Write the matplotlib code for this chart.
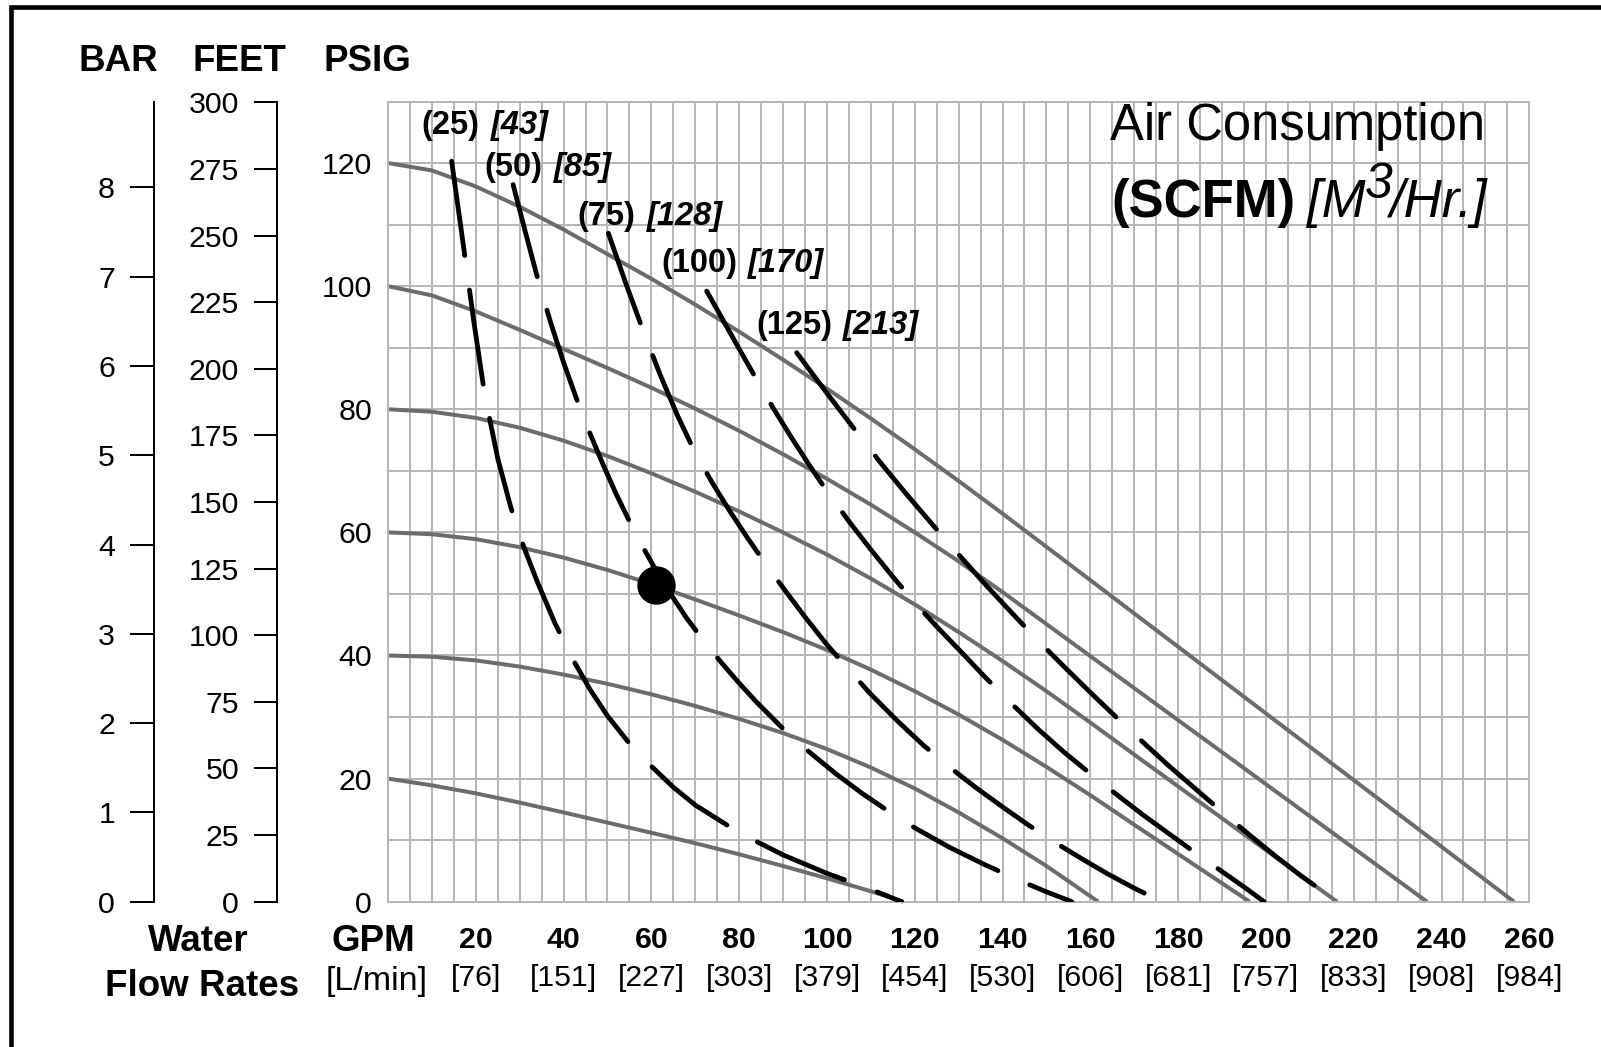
import matplotlib
matplotlib.use('Agg')
import matplotlib.pyplot as plt
from matplotlib.lines import Line2D
from matplotlib.transforms import blended_transform_factory
import numpy as np

plt.rcParams['font.family'] = ['Liberation Sans', 'DejaVu Sans']
plt.rcParams['lines.scale_dashes'] = False

# ---------------- data ----------------
gpm_ticks = [20, 40, 60, 80, 100, 120, 140, 160, 180, 200, 220, 240, 260]
lpm_labels = ['[76]', '[151]', '[227]', '[303]', '[379]', '[454]', '[530]',
              '[606]', '[681]', '[757]', '[833]', '[908]', '[984]']
psig_ticks = [0, 20, 40, 60, 80, 100, 120]
bar_ticks = [0, 1, 2, 3, 4, 5, 6, 7, 8]
feet_ticks = [0, 25, 50, 75, 100, 125, 150, 175, 200, 225, 250, 275, 300]

# solid performance curves (air inlet pressure, PSIG): GPM vs discharge PSIG
s120_gpm = [0, 10, 20, 30, 40, 50, 60, 70, 80, 90, 100, 110, 120, 130, 140, 150, 256.5]
s120_psi = [120, 118.8, 116.2, 112.9, 109.2, 105.2, 101.2, 97.0, 92.6, 88.05, 83.35, 78.5, 73.5, 68.35, 63.05, 57.65, 0]
s100_gpm = [0, 10, 20, 30, 40, 50, 60, 70, 80, 90, 100, 110, 120, 130, 140, 236.7]
s100_psi = [100, 98.5, 95.9, 92.9, 89.8, 86.7, 83.5, 80.1, 76.5, 72.7, 68.7, 64.5, 60.0, 55.3, 50.3, 0]
s80_gpm = [0, 10, 20, 30, 40, 50, 60, 70, 80, 90, 100, 110, 120, 130, 140, 150, 160, 170, 216.2]
s80_psi = [80, 79.6, 78.6, 77.0, 74.9, 72.4, 69.6, 66.6, 63.4, 60.0, 56.4, 52.5, 48.3, 43.8, 39.1, 34.2, 29.1, 23.9, 0]
s60_gpm = [0, 10, 20, 30, 40, 50, 60, 70, 80, 90, 100, 110, 120, 130, 140, 150, 160, 170, 196.3]
s60_psi = [60, 59.7, 58.9, 57.6, 55.9, 53.9, 51.6, 49.1, 46.5, 43.8, 40.9, 37.7, 34.2, 30.4, 26.3, 21.9, 17.3, 12.5, 0]
s40_gpm = [0, 10, 20, 30, 40, 50, 60, 70, 80, 90, 100, 110, 120, 130, 140, 150, 161.8]
s40_psi = [40, 39.8, 39.2, 38.2, 36.9, 35.4, 33.7, 31.8, 29.7, 27.4, 24.8, 21.8, 18.4, 14.5, 10.3, 5.8, 0]
s20_gpm = [0, 10, 20, 30, 40, 50, 60, 70, 80, 90, 100, 110, 117.4]
s20_psi = [20, 18.9, 17.6, 16.1, 14.5, 12.85, 11.2, 9.5, 7.7, 5.8, 3.8, 1.7, 0]

# dashed air consumption curves (SCFM)
d25_gpm = [14.5, 17, 19.5, 22, 25, 28, 31, 34, 38, 42, 46, 50, 55, 60, 65, 70, 80, 90, 100, 110, 117]
d25_psi = [120.3, 107.5, 94.5, 82.5, 72, 64, 57.5, 52, 45.3, 39.5, 34.5, 30.2, 25.7, 22, 18.6, 15.7, 11.2, 7.6, 4.6, 2.0, 0]
d50_gpm = [28.5, 31, 34, 37, 40, 43, 46, 49, 52, 55, 58, 61, 64, 68, 72, 76, 80, 84, 90, 96, 102, 108, 114, 120, 128, 136, 144, 150, 155.8]
d50_psi = [116.5, 109.6, 101.5, 94.2, 87.6, 81.6, 76.1, 71.0, 66.2, 61.8, 57.7, 53.9, 50.4, 46.1, 42.3, 38.8, 35.5, 32.4, 28.1, 24.3, 20.8, 17.6, 14.7, 12.0, 8.8, 6.0, 3.4, 1.6, 0]
d75_gpm = [50.2, 54, 58, 62, 66, 70, 74, 78, 82, 86, 90, 95, 100, 105, 110, 116, 122, 128, 134, 140, 146, 152, 158, 164, 170, 176.2]
d75_psi = [108.6, 100.8, 93.0, 85.6, 78.9, 72.9, 67.9, 63.3, 59.0, 54.9, 51.0, 46.25, 41.75, 37.65, 33.7, 29.4, 25.4, 21.8, 18.5, 15.4, 12.4, 9.6, 7.0, 4.5, 2.2, 0]
d100_gpm = [72.6, 76, 80, 84, 88, 92, 96, 100, 105, 110, 115, 120, 125, 130, 136, 142, 148, 154, 160, 166, 172, 178, 184, 190, 195, 199.6]
d100_psi = [99.2, 94.9, 89.8, 84.8, 79.9, 75.3, 70.9, 66.7, 61.8, 57.2, 52.8, 48.6, 44.7, 41.0, 36.5, 32.2, 28.1, 24.3, 20.8, 17.4, 14.1, 11.0, 7.9, 4.9, 2.4, 0]
d125_gpm = [93.1, 100, 106, 112, 118, 124, 130, 136, 142, 148, 154, 160, 166, 172, 178, 184, 190, 196, 202, 208, 216.2]
d125_psi = [89.2, 82.6, 77.0, 71.5, 66.3, 61.3, 56.4, 51.6, 47.0, 42.5, 38.2, 34.0, 29.9, 25.9, 22.0, 18.3, 14.6, 11.0, 7.5, 4.2, 0]

scfm_labels = ['(25)', '(50)', '(75)', '(100)', '(125)']
m3hr_labels = ['[43]', '[85]', '[128]', '[170]', '[213]']
label_gpm = [7.6, 22.0, 43.2, 62.2, 83.9]
label_psi = [126.1, 119.2, 111.3, 103.7, 93.6]

point_gpm = [61]
point_psi = [51.5]

# ---------------- figure ----------------
W, H = 1601, 1047
fig = plt.figure(figsize=(W / 100, H / 100), dpi=100)
fig.patch.set_facecolor('white')


def fx(px):
    return px / W


def fy(py):
    return 1 - py / H


PX = 0.72  # points per pixel at 100 dpi
grid_c = '#b6b6b6'
curve_c = '#6c6c6c'

ax_left, ax_right, ax_top, ax_bot = 388, 1529.3, 101.5, 901.7
ax = fig.add_axes([fx(ax_left), fy(ax_bot), (ax_right - ax_left) / W, (ax_bot - ax_top) / H])
ax.set_xlim(0, 260)
ax.set_ylim(0, 130)
ax.vlines(np.arange(5, 260, 5), 0, 130, color=grid_c, lw=2 * PX, zorder=0)
ax.hlines(np.arange(10, 130, 10), 0, 260, color=grid_c, lw=2 * PX, zorder=0)
for sp in ax.spines.values():
    sp.set_color(grid_c)
    sp.set_linewidth(2 * PX)

ax.set_xticks(gpm_ticks)
ax.set_xticklabels([str(v) for v in gpm_ticks], fontsize=21.8, fontweight='bold')
ax.set_yticks(psig_ticks)
ax.set_yticklabels([str(v) for v in psig_ticks], fontsize=21.8)
ax.tick_params(axis='x', length=0, pad=24 * PX)
ax.tick_params(axis='y', length=0, pad=16 * PX)

trans_lpm = blended_transform_factory(ax.transData, fig.transFigure)
for g, s in zip(gpm_ticks, lpm_labels):
    ax.text(g, fy(986), s, transform=trans_lpm, ha='center', va='baseline', fontsize=21.8)

# solid curves
for xs, ys in [(s120_gpm, s120_psi), (s100_gpm, s100_psi), (s80_gpm, s80_psi),
               (s60_gpm, s60_psi), (s40_gpm, s40_psi), (s20_gpm, s20_psi)]:
    ax.plot(xs, ys, color=curve_c, lw=4.0 * PX, solid_capstyle='butt',
            solid_joinstyle='round', zorder=2, clip_on=False)

# dashed curves
lw_d = 4.8 * PX
dash = (0, (100 * PX - lw_d, 30 * PX + lw_d))
for xs, ys in [(d25_gpm, d25_psi), (d50_gpm, d50_psi), (d75_gpm, d75_psi),
               (d100_gpm, d100_psi), (d125_gpm, d125_psi)]:
    ax.plot(xs, ys, color='black', lw=lw_d, linestyle=dash, dash_capstyle='round',
            dash_joinstyle='round', zorder=3)

ax.plot(point_gpm, point_psi, 'o', color='black', ms=37 * PX, zorder=4)

# curve labels
for g, p, a, b in zip(label_gpm, label_psi, scfm_labels, m3hr_labels):
    t = ax.text(g, p, a, fontsize=23.5, fontweight='bold', ha='left', va='center', zorder=5)
    ax.annotate(b, xy=(1, 0.5), xycoords=t, xytext=(11 * PX, 0), textcoords='offset points',
                fontsize=23.5, fontweight='bold', fontstyle='italic', ha='left', va='center', zorder=5)

# BAR axis
axb = fig.add_axes([fx(154), fy(ax_bot), 0.0005, (ax_bot - ax_top) / H])
axb.set_ylim(0, 130 / 14.5038)
axb.patch.set_visible(False)
for k in ['right', 'top', 'bottom']:
    axb.spines[k].set_visible(False)
axb.spines['left'].set_linewidth(2 * PX)
axb.set_xticks([])
axb.set_yticks(bar_ticks)
axb.set_yticklabels([str(v) for v in bar_ticks], fontsize=21.8)
axb.tick_params(axis='y', direction='out', length=24 * PX, width=2 * PX, pad=15 * PX)

# FEET axis
axf = fig.add_axes([fx(277), fy(ax_bot), 0.0005, (ax_bot - ax_top) / H])
axf.set_ylim(0, 130 * 2.31)
axf.patch.set_visible(False)
for k in ['right', 'top', 'bottom']:
    axf.spines[k].set_visible(False)
axf.spines['left'].set_linewidth(2 * PX)
axf.set_xticks([])
axf.set_yticks(feet_ticks)
axf.set_yticklabels([str(v) for v in feet_ticks], fontsize=21.8)
axf.tick_params(axis='y', direction='out', length=23 * PX, width=2 * PX, pad=15 * PX)

# headers
fig.text(fx(118.3), fy(61.7), 'BAR', fontsize=26.5, fontweight='bold', ha='center', va='center')
fig.text(fx(239), fy(61.7), 'FEET', fontsize=26.5, fontweight='bold', ha='center', va='center')
fig.text(fx(367.5), fy(61.7), 'PSIG', fontsize=26.5, fontweight='bold', ha='center', va='center')

# bottom-left labels
fig.text(fx(198), fy(951), 'Water', fontsize=26.5, fontweight='bold', ha='center', va='baseline')
fig.text(fx(202.5), fy(996.5), 'Flow Rates', fontsize=26.5, fontweight='bold', ha='center', va='baseline')
fig.text(fx(373), fy(951), 'GPM', fontsize=26.5, fontweight='bold', ha='center', va='baseline')
fig.text(fx(376.5), fy(990), '[L/min]', fontsize=24.5, ha='center', va='baseline')

# title
fig.text(fx(1297.5), fy(140), 'Air Consumption', fontsize=36.5, ha='center', va='baseline')
t1 = fig.text(fx(1111), fy(216.5), '(SCFM)', fontsize=38, fontweight='bold', ha='left', va='baseline')
t2 = ax.annotate('[M', xy=(1, 0), xycoords=t1, xytext=(12 * PX, 0), textcoords='offset points',
                 fontsize=38, fontstyle='italic', ha='left', va='bottom', annotation_clip=False)
t3 = ax.annotate('3', xy=(1, 0), xycoords=t2, xytext=(-1 * PX, 20 * PX), textcoords='offset points',
                 fontsize=36, fontstyle='italic', ha='left', va='bottom', annotation_clip=False)
ax.annotate('/Hr.]', xy=(1, 0), xycoords=t3, xytext=(-3 * PX, -20 * PX), textcoords='offset points',
            fontsize=38, fontstyle='italic', ha='left', va='bottom', annotation_clip=False)

# outer frame
fig.add_artist(Line2D([fx(10.5), fx(10.5), fx(1601)], [fy(1047), fy(6.7), fy(6.7)],
                      transform=fig.transFigure, color='black', lw=4.6 * PX,
                      solid_joinstyle='miter', solid_capstyle='projecting'))

fig.savefig('out.png', dpi=100, facecolor='white')
